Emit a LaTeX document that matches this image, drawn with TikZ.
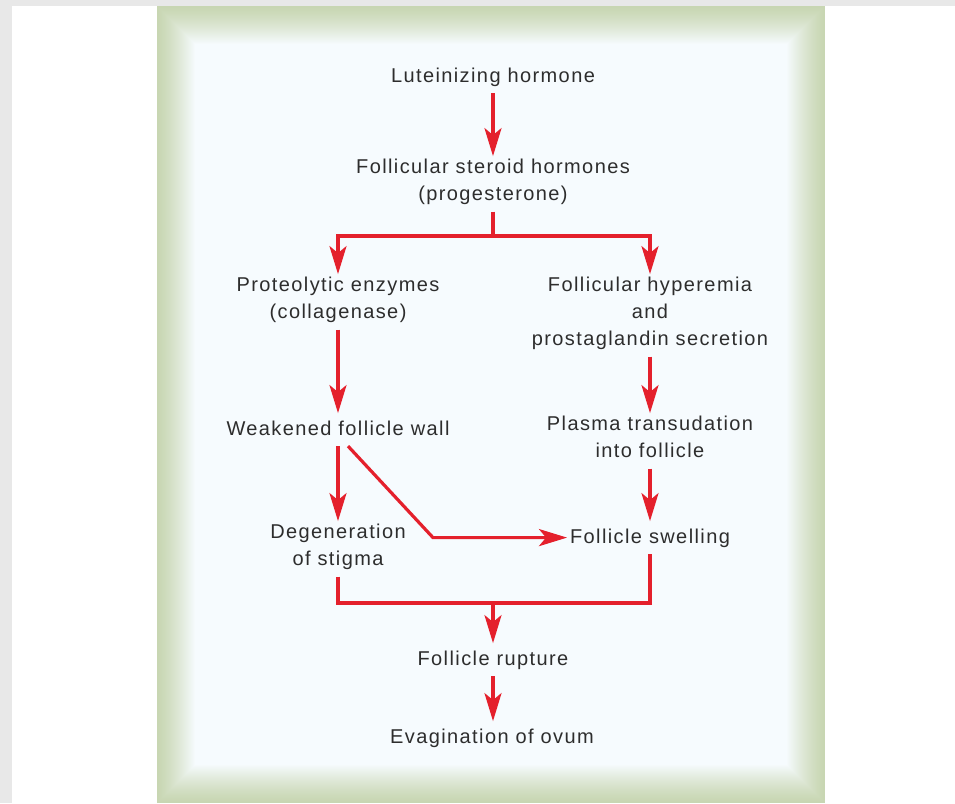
\documentclass[tikz,border=0pt]{standalone}
\usepackage{fontspec}
\setmainfont{Liberation Sans}[LetterSpace=7]
\usetikzlibrary{arrows.meta,calc}
\definecolor{arrowred}{RGB}{228,32,44}
\definecolor{txtgray}{RGB}{45,45,45}
\definecolor{bordergreen}{RGB}{200,214,178}
\definecolor{panelblue}{RGB}{246,251,254}
\definecolor{framegray}{RGB}{232,232,232}
\tikzset{
  lbl/.style={align=center, inner sep=0pt, outer sep=3pt, anchor=north, text=txtgray,
    font=\fontsize{20}{27}\selectfont, execute at begin node=\strut, execute at end node=\strut},
  link/.style={draw=arrowred, line width=3.2pt},
  arr/.style={link, -{Stealth[length=28pt,width=17pt,inset=7pt]}}
}
\begin{document}
\begin{tikzpicture}[x=1pt,y=-1pt]
\useasboundingbox (0,0) rectangle (955,803);
\fill[white] (0,0) rectangle (955,803);
\fill[framegray] (0,0) rectangle (955,6);
\fill[framegray] (0,0) rectangle (12,803);
% panel with soft green border
\foreach \i in {0,...,38}{
  \pgfmathsetmacro\p{100*((\i/38)^1.3)}
  \fill[panelblue!\p!bordergreen] (157+\i,6+\i) rectangle (825-\i,803-\i);
}
% nodes
\node[lbl] (lh)     at (493,60.1)  {Luteinizing hormone};
\node[lbl] (fsh)    at (493,156.1) {Follicular steroid hormones\\(progesterone)};
\node[lbl] (prot)   at (338,274.1) {Proteolytic enzymes\\(collagenase)};
\node[lbl] (hyp)    at (650,274.1) {Follicular hyperemia\\and\\prostaglandin secretion};
\node[lbl] (weak)   at (338,413.1) {Weakened follicle wall};
\node[lbl] (plasma) at (650,413.1) {Plasma transudation\\into follicle};
\node[lbl] (degen)  at (338,521.1) {Degeneration\\of stigma};
\node[lbl] (swell)  at (650,521.1) {Follicle swelling};
\node[lbl] (rupt)   at (493,643.1) {Follicle rupture};
\node[lbl] (evag)   at (492,721.1) {Evagination of ovum};
\coordinate (split) at (493,236);
\coordinate (join) at (493,603);
\coordinate (bend) at (433,537.5);
% connectors
\draw[arr] (lh.south) -- (fsh.north);
\draw[link] (fsh.south) -- (fsh.south |- split);
\draw[arr] (fsh.south |- split) -| (prot.north);
\draw[arr] (fsh.south |- split) -| (hyp.north);
\draw[arr] (prot.south) -- (weak.north);
\draw[arr] (hyp.south) -- (plasma.north);
\draw[arr] (weak.south) -- (degen.north);
\draw[arr] ([xshift=10pt]weak.south) -- (bend |- swell.west) -- (swell.west);
\draw[arr] (plasma.south) -- (swell.north);
\draw[link] (degen.south) -- (degen.south |- join) -- (swell.south |- join) -- (swell.south);
\draw[arr] (join) -- (rupt.north);
\draw[arr] (rupt.south) -- (rupt.south |- evag.north);
\end{tikzpicture}
\end{document}
